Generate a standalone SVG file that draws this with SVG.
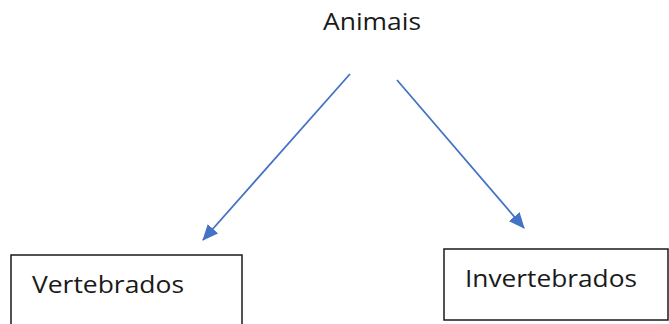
<svg xmlns="http://www.w3.org/2000/svg" width="669" height="324" viewBox="0 0 669 324">
<style>
.lbl{font-family:"Open Sans","Liberation Sans",sans-serif;font-size:23px;fill:#1a1a1a}
.box{fill:#ffffff;stroke:#1a1a1a;stroke-width:1.5}
.conn{stroke:#4472C4;stroke-width:1.8;fill:none}
</style>
<defs>
<marker id="ah" markerWidth="16" markerHeight="14" refX="15" refY="7" orient="auto" markerUnits="userSpaceOnUse" viewBox="0 0 16 14">
<path d="M0,0 L16,7 L0,14 z" fill="#4472C4"/>
</marker>
</defs>
<rect width="669" height="324" fill="#ffffff"/>
<g id="connectors">
<line class="conn" x1="350" y1="74" x2="203" y2="240" marker-end="url(#ah)"/>
<line class="conn" x1="397" y1="80" x2="524" y2="228" marker-end="url(#ah)"/>
</g>
<g id="node-animais">
<text class="lbl" x="323" y="30" textLength="98" lengthAdjust="spacingAndGlyphs">Animais</text>
</g>
<g id="node-vertebrados">
<rect class="box" x="11" y="255" width="231" height="80"/>
<text class="lbl" x="32" y="293" textLength="152" lengthAdjust="spacingAndGlyphs">Vertebrados</text>
</g>
<g id="node-invertebrados">
<rect class="box" x="444" y="249" width="224" height="71"/>
<text class="lbl" x="465" y="287" textLength="172" lengthAdjust="spacingAndGlyphs">Invertebrados</text>
</g>
</svg>
